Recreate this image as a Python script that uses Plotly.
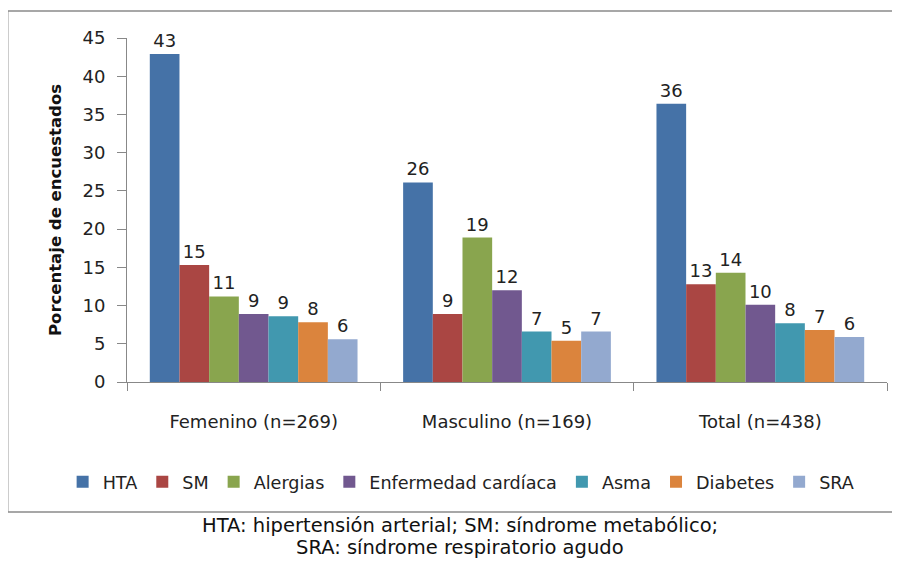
import plotly.graph_objects as go

categories = ["Femenino (n=269)", "Masculino (n=169)", "Total (n=438)"]
series_names = ["HTA", "SM", "Alergias", "Enfermedad cardíaca", "Asma", "Diabetes", "SRA"]
hta = [42.9, 26.1, 36.4]
sm = [15.3, 8.9, 12.8]
alergias = [11.2, 18.9, 14.3]
enfermedad = [8.9, 12.0, 10.1]
asma = [8.6, 6.6, 7.7]
diabetes = [7.8, 5.4, 6.8]
sra = [5.6, 6.6, 5.9]
colors = ["#4572A7", "#AA4643", "#89A54E", "#71588F", "#4198AF", "#DB843D", "#93A9CF"]
y_ticks = [0, 5, 10, 15, 20, 25, 30, 35, 40, 45]
caption_lines = ["HTA: hipertensión arterial; SM: síndrome metabólico;",
                 "SRA: síndrome respiratorio agudo"]

FONT = "DejaVu Sans"
fig = go.Figure()
for name, vals, col in zip(series_names, [hta, sm, alergias, enfermedad, asma, diabetes, sra], colors):
    fig.add_trace(go.Bar(
        name=name, x=categories, y=vals, marker=dict(color=col, line=dict(width=0)),
        texttemplate="%{y:.0f}", textposition="outside", cliponaxis=False,
        textfont=dict(family=FONT, size=18, color="#222"),
    ))

caption_y = [-0.4186, -0.4797]
annotations = []
for line, yy in zip(caption_lines, caption_y):
    annotations.append(dict(text=line, xref="paper", yref="paper", x=0.438, y=yy,
                            xanchor="center", yanchor="middle", showarrow=False,
                            font=dict(family=FONT, size=19.5, color="#111")))

fig.update_layout(
    width=900, height=561,
    margin=dict(l=119, r=21, t=30, b=187, autoexpand=False),
    paper_bgcolor="white", plot_bgcolor="white",
    barmode="group", bargap=0.18, bargroupgap=0,
    font=dict(family=FONT, size=18, color="#222"),
    showlegend=True,
    legend=dict(orientation="h", x=-0.0847, xanchor="left", y=-0.29, yanchor="middle",
                font=dict(family=FONT, size=17.6, color="#222"), itemwidth=30,
                traceorder="normal", bgcolor="rgba(0,0,0,0)"),
    xaxis=dict(showline=True, linecolor="#888", linewidth=1, ticks="outside", ticklen=8,
               tickcolor="#888", tickson="boundaries", showgrid=False, automargin=False,
               tickfont=dict(family=FONT, size=18, color="#222"), ticklabelstandoff=23),
    yaxis=dict(range=[0, 45], tickvals=y_ticks, showline=True, linecolor="#888", linewidth=1,
               ticks="outside", ticklen=9, tickcolor="#888", showgrid=False, zeroline=False,
               automargin=False,
               tickfont=dict(family=FONT, size=18, color="#222"), ticklabelstandoff=8,
               title=dict(text="<b>Porcentaje de encuestados</b>", standoff=16,
                          font=dict(family=FONT, size=16.5, color="#111"))),
    shapes=[dict(type="rect", xref="paper", yref="paper", x0=-0.157, x1=1.05, y0=-0.378, y1=1.0785,
                 line=dict(color="#8a8a8a", width=1.5), layer="below")],
    annotations=annotations,
)
fig.write_html("out.html")
